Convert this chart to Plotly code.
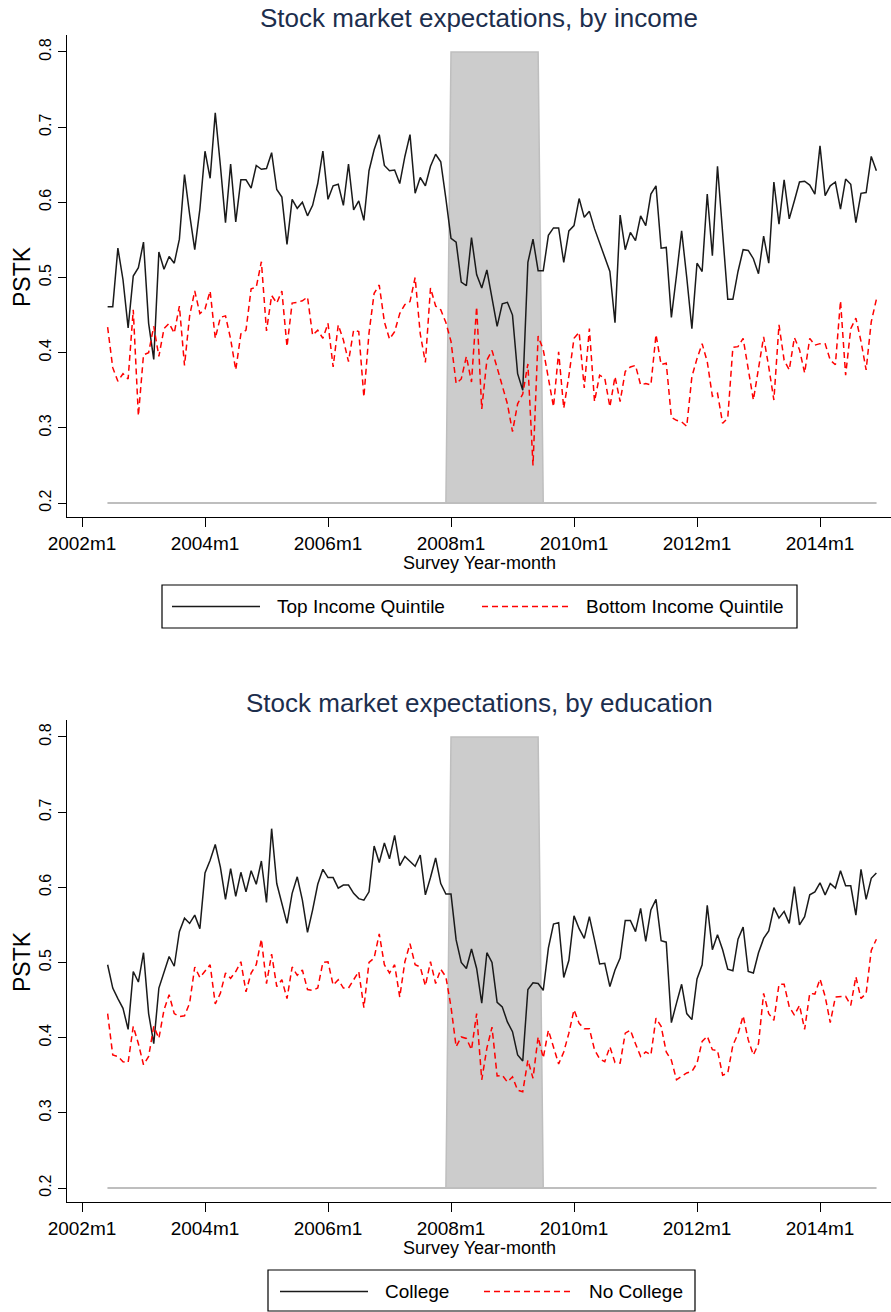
import plotly.graph_objects as go

W, H = 891, 1312

# ---- data: monthly PSTK means, 2002m6 .. 2014m12 ----
FIRST_MONTH = "2002m6"
N_MONTHS = 151

top_income = [
    0.461, 0.461, 0.539, 0.497, 0.433, 0.502, 0.513, 0.547, 0.439, 0.391,
    0.534, 0.511, 0.528, 0.519, 0.551, 0.637, 0.584, 0.537, 0.591, 0.668,
    0.632, 0.719, 0.649, 0.573, 0.651, 0.574, 0.630, 0.630, 0.619, 0.649,
    0.644, 0.645, 0.666, 0.617, 0.607, 0.544, 0.604, 0.592, 0.600, 0.582,
    0.596, 0.625, 0.668, 0.604, 0.622, 0.624, 0.596, 0.651, 0.590, 0.602,
    0.576, 0.642, 0.670, 0.690, 0.649, 0.642, 0.643, 0.625, 0.661, 0.690,
    0.612, 0.633, 0.622, 0.648, 0.664, 0.654, 0.605, 0.552, 0.547, 0.494,
    0.489, 0.553, 0.504, 0.486, 0.510, 0.472, 0.435, 0.465, 0.467, 0.450,
    0.372, 0.350, 0.520, 0.551, 0.509, 0.509, 0.556, 0.566, 0.566, 0.520,
    0.562, 0.569, 0.605, 0.580, 0.588, 0.565, 0.546, 0.525, 0.508, 0.440,
    0.583, 0.537, 0.560, 0.549, 0.582, 0.569, 0.611, 0.622, 0.539, 0.540,
    0.447, 0.503, 0.562, 0.500, 0.432, 0.519, 0.508, 0.611, 0.529, 0.648,
    0.561, 0.471, 0.471, 0.508, 0.537, 0.536, 0.525, 0.505, 0.555, 0.519,
    0.627, 0.571, 0.630, 0.578, 0.602, 0.627, 0.628, 0.623, 0.611, 0.675,
    0.609, 0.622, 0.627, 0.591, 0.631, 0.624, 0.573, 0.612, 0.613, 0.661,
    0.642,
]

bottom_income = [
    0.434, 0.380, 0.362, 0.372, 0.365, 0.457, 0.316, 0.397, 0.400, 0.435,
    0.395, 0.432, 0.439, 0.426, 0.462, 0.383, 0.449, 0.482, 0.452, 0.458,
    0.482, 0.419, 0.447, 0.449, 0.418, 0.377, 0.425, 0.430, 0.485, 0.487,
    0.521, 0.429, 0.476, 0.466, 0.482, 0.408, 0.466, 0.467, 0.469, 0.474,
    0.423, 0.430, 0.419, 0.439, 0.381, 0.437, 0.417, 0.388, 0.430, 0.428,
    0.341, 0.426, 0.479, 0.490, 0.441, 0.418, 0.428, 0.452, 0.464, 0.468,
    0.500, 0.425, 0.387, 0.486, 0.462, 0.457, 0.440, 0.415, 0.359, 0.365,
    0.395, 0.361, 0.461, 0.325, 0.390, 0.403, 0.380, 0.355, 0.332, 0.295,
    0.332, 0.345, 0.385, 0.250, 0.422, 0.404, 0.365, 0.328, 0.401, 0.326,
    0.369, 0.419, 0.427, 0.353, 0.432, 0.335, 0.370, 0.366, 0.328, 0.368,
    0.335, 0.375, 0.381, 0.383, 0.357, 0.359, 0.357, 0.424, 0.384, 0.386,
    0.314, 0.310, 0.308, 0.302, 0.368, 0.392, 0.412, 0.388, 0.342, 0.346,
    0.306, 0.313, 0.407, 0.408, 0.419, 0.379, 0.337, 0.379, 0.421, 0.381,
    0.337, 0.437, 0.390, 0.377, 0.420, 0.404, 0.373, 0.419, 0.410, 0.412,
    0.412, 0.390, 0.384, 0.469, 0.370, 0.432, 0.446, 0.415, 0.377, 0.441,
    0.471,
]

college = [
    0.497, 0.466, 0.452, 0.439, 0.411, 0.488, 0.474, 0.513, 0.432, 0.392,
    0.466, 0.486, 0.508, 0.495, 0.541, 0.559, 0.552, 0.563, 0.545, 0.619,
    0.636, 0.657, 0.627, 0.584, 0.625, 0.588, 0.620, 0.594, 0.622, 0.604,
    0.635, 0.580, 0.678, 0.605, 0.579, 0.552, 0.592, 0.614, 0.583, 0.540,
    0.570, 0.604, 0.624, 0.613, 0.613, 0.599, 0.603, 0.603, 0.592, 0.585,
    0.583, 0.594, 0.655, 0.633, 0.659, 0.638, 0.669, 0.629, 0.641, 0.634,
    0.628, 0.643, 0.590, 0.613, 0.639, 0.605, 0.591, 0.591, 0.530, 0.500,
    0.492, 0.518, 0.492, 0.446, 0.513, 0.500, 0.447, 0.441, 0.421, 0.408,
    0.377, 0.369, 0.464, 0.473, 0.472, 0.463, 0.519, 0.551, 0.553, 0.480,
    0.503, 0.562, 0.545, 0.532, 0.561, 0.530, 0.498, 0.499, 0.468, 0.490,
    0.506, 0.556, 0.556, 0.541, 0.572, 0.528, 0.570, 0.584, 0.529, 0.527,
    0.420, 0.446, 0.471, 0.432, 0.424, 0.478, 0.497, 0.576, 0.517, 0.537,
    0.517, 0.491, 0.489, 0.531, 0.547, 0.488, 0.486, 0.513, 0.532, 0.542,
    0.573, 0.559, 0.568, 0.552, 0.601, 0.550, 0.561, 0.590, 0.594, 0.606,
    0.590, 0.605, 0.599, 0.622, 0.602, 0.602, 0.563, 0.624, 0.584, 0.612,
    0.619,
]

no_college = [
    0.432, 0.377, 0.375, 0.368, 0.367, 0.415, 0.392, 0.364, 0.375, 0.415,
    0.399, 0.437, 0.457, 0.432, 0.428, 0.429, 0.446, 0.494, 0.480, 0.489,
    0.497, 0.445, 0.459, 0.486, 0.479, 0.488, 0.501, 0.461, 0.486, 0.497,
    0.531, 0.472, 0.511, 0.468, 0.477, 0.452, 0.494, 0.483, 0.490, 0.464,
    0.463, 0.466, 0.500, 0.501, 0.470, 0.477, 0.466, 0.466, 0.477, 0.488,
    0.440, 0.500, 0.506, 0.538, 0.497, 0.486, 0.497, 0.454, 0.501, 0.525,
    0.497, 0.494, 0.469, 0.501, 0.472, 0.491, 0.481, 0.441, 0.388, 0.401,
    0.399, 0.384, 0.432, 0.344, 0.386, 0.414, 0.349, 0.350, 0.341, 0.348,
    0.330, 0.328, 0.370, 0.346, 0.401, 0.373, 0.410, 0.388, 0.365, 0.381,
    0.406, 0.437, 0.419, 0.412, 0.412, 0.384, 0.372, 0.368, 0.388, 0.367,
    0.366, 0.406, 0.410, 0.392, 0.375, 0.381, 0.377, 0.426, 0.415, 0.381,
    0.370, 0.344, 0.348, 0.353, 0.355, 0.366, 0.395, 0.402, 0.384, 0.383,
    0.350, 0.353, 0.390, 0.405, 0.429, 0.397, 0.377, 0.392, 0.459, 0.432,
    0.423, 0.471, 0.471, 0.441, 0.430, 0.443, 0.411, 0.459, 0.458, 0.478,
    0.455, 0.420, 0.454, 0.455, 0.455, 0.443, 0.481, 0.452, 0.459, 0.516,
    0.531,
]

# NBER recession window (shaded band) and axis labels
RECESSION_START = "2008m1"
RECESSION_END = "2009m6"
SHADE_LOW, SHADE_HIGH = 0.2, 0.8
X_TICK_LABELS = ["2002m1", "2004m1", "2006m1", "2008m1", "2010m1", "2012m1", "2014m1"]
Y_TICKS = [0.2, 0.3, 0.4, 0.5, 0.6, 0.7, 0.8]


def month_index(label):
    """Months elapsed since 2002m1 for a Stata-style 'YYYYmM' label."""
    year, month = label.split("m")
    return (int(year) - 2002) * 12 + int(month) - 1


def month_label(idx):
    return f"{2002 + idx // 12}m{idx % 12 + 1}"


first = month_index(FIRST_MONTH)
months = [month_label(first + i) for i in range(N_MONTHS)]
for series in (top_income, bottom_income, college, no_college):
    assert len(series) == N_MONTHS

x = [month_index(m) for m in months]
rs, re_ = month_index(RECESSION_START), month_index(RECESSION_END)
shade = [SHADE_HIGH if rs <= t <= re_ else SHADE_LOW for t in x]
base = [SHADE_LOW] * N_MONTHS

FONT = "Liberation Sans, Arial, sans-serif"
TITLE_COLOR = "#1c2e4d"
BLACK = "#1a1a1a"
RED = "#ff0000"
SHADE_FILL = "#cccccc"
SHADE_LINE = "#bebebe"
DASH = "6px,4px"

# pixel geometry of each panel (top of axis, bottom of axis), second panel offset
PANEL_OFFSET = 685
AX_TOP, AX_BOTTOM = 35, 517
X_LEFT = 67
PX_PER_UNIT = 751.7
Y_AT_02 = 503
y_lo = 0.2 - (AX_BOTTOM - Y_AT_02) / PX_PER_UNIT
y_hi = 0.2 + (Y_AT_02 - AX_TOP) / PX_PER_UNIT
PX_PER_MONTH = 5.125
X0_PX = 82  # pixel of 2002m1
x_lo = (X_LEFT - X0_PX) / PX_PER_MONTH
x_hi = (W - X0_PX) / PX_PER_MONTH

panels = [
    dict(title="Stock market expectations, by income",
         series=[("Top Income Quintile", top_income, BLACK, "solid"),
                 ("Bottom Income Quintile", bottom_income, RED, DASH)],
         legend_box=(162, 797), sample_x=[(172, 260), (482, 568)], text_x=[275, 584]),
    dict(title="Stock market expectations, by education",
         series=[("College", college, BLACK, "solid"),
                 ("No College", no_college, RED, DASH)],
         legend_box=(268, 695), sample_x=[(280, 368), (484, 572)], text_x=[383, 587]),
]

fig = go.Figure()
annotations = []
shapes = []


def py(v):
    return 1 - v / H


for i, p in enumerate(panels):
    off = i * PANEL_OFFSET
    xa = "x" if i == 0 else f"x{i + 1}"
    ya = "y" if i == 0 else f"y{i + 1}"
    fig.add_trace(go.Scatter(x=x, y=base, mode="lines", xaxis=xa, yaxis=ya,
                             line=dict(color=SHADE_LINE, width=2),
                             showlegend=False, hoverinfo="skip"))
    fig.add_trace(go.Scatter(x=x, y=shade, mode="lines", xaxis=xa, yaxis=ya,
                             fill="tonexty", fillcolor=SHADE_FILL,
                             line=dict(color=SHADE_LINE, width=1.5),
                             showlegend=False, hoverinfo="skip"))
    for name, vals, color, dash in p["series"]:
        fig.add_trace(go.Scatter(x=x, y=vals, mode="lines", name=name,
                                 xaxis=xa, yaxis=ya, text=months,
                                 line=dict(color=color, width=1.5, dash=dash),
                                 showlegend=False))

    dom_y = [py(AX_BOTTOM + off), py(AX_TOP + off)]
    axis_common = dict(showline=True, linecolor="black", linewidth=1.3,
                       ticks="outside", tickcolor="black", tickwidth=1.3,
                       showgrid=False, zeroline=False, automargin=False)
    fig.layout[("xaxis" if i == 0 else f"xaxis{i + 1}")] = dict(
        domain=[X_LEFT / W, 1], range=[x_lo, x_hi], anchor=ya,
        tickvals=[month_index(l) for l in X_TICK_LABELS], ticktext=X_TICK_LABELS,
        ticklen=9, tickfont=dict(family=FONT, size=19, color="black"), **axis_common)
    fig.layout[("yaxis" if i == 0 else f"yaxis{i + 1}")] = dict(
        domain=dom_y, range=[y_lo, y_hi], anchor=xa,
        tickvals=Y_TICKS, tickformat=".1f", tickangle=-90, ticklen=8,
        tickfont=dict(family=FONT, size=16, color="black"), **axis_common)

    annotations += [
        dict(text=p["title"], x=(X_LEFT + W) / 2 / W, y=py(18 + off), xref="paper", yref="paper",
             showarrow=False, xanchor="center", yanchor="middle",
             font=dict(family=FONT, size=26, color=TITLE_COLOR)),
        dict(text="PSTK", x=22 / W, y=py(277 + off), xref="paper", yref="paper",
             showarrow=False, textangle=-90, xanchor="center", yanchor="middle",
             font=dict(family=FONT, size=23, color="black")),
        dict(text="Survey Year-month", x=(X_LEFT + W) / 2 / W, y=py(563 + off),
             xref="paper", yref="paper", showarrow=False, xanchor="center", yanchor="middle",
             font=dict(family=FONT, size=18, color="black")),
    ]

    # legend box
    bx0, bx1 = p["legend_box"]
    by0, by1 = 585 + off, min(628 + off, H - 1)
    shapes.append(dict(type="rect", xref="paper", yref="paper",
                       x0=bx0 / W, x1=bx1 / W, y0=py(by1), y1=py(by0),
                       line=dict(color="black", width=1.2), fillcolor="white", layer="above"))
    ly = py(606.5 + off)
    for (sx0, sx1), tx, (name, _, color, dash) in zip(p["sample_x"], p["text_x"], p["series"]):
        shapes.append(dict(type="line", xref="paper", yref="paper",
                           x0=sx0 / W, x1=sx1 / W, y0=ly, y1=ly,
                           line=dict(color=color, width=1.5, dash=dash), layer="above"))
        annotations.append(dict(text=name, x=tx / W, y=ly, xref="paper", yref="paper",
                                showarrow=False, xanchor="left", yanchor="middle",
                                font=dict(family=FONT, size=19, color="black")))

fig.update_layout(
    width=W, height=H, margin=dict(l=0, r=0, t=0, b=0, autoexpand=False),
    paper_bgcolor="white", plot_bgcolor="white",
    annotations=annotations, shapes=shapes, showlegend=False,
)

fig.write_html("out.html")
